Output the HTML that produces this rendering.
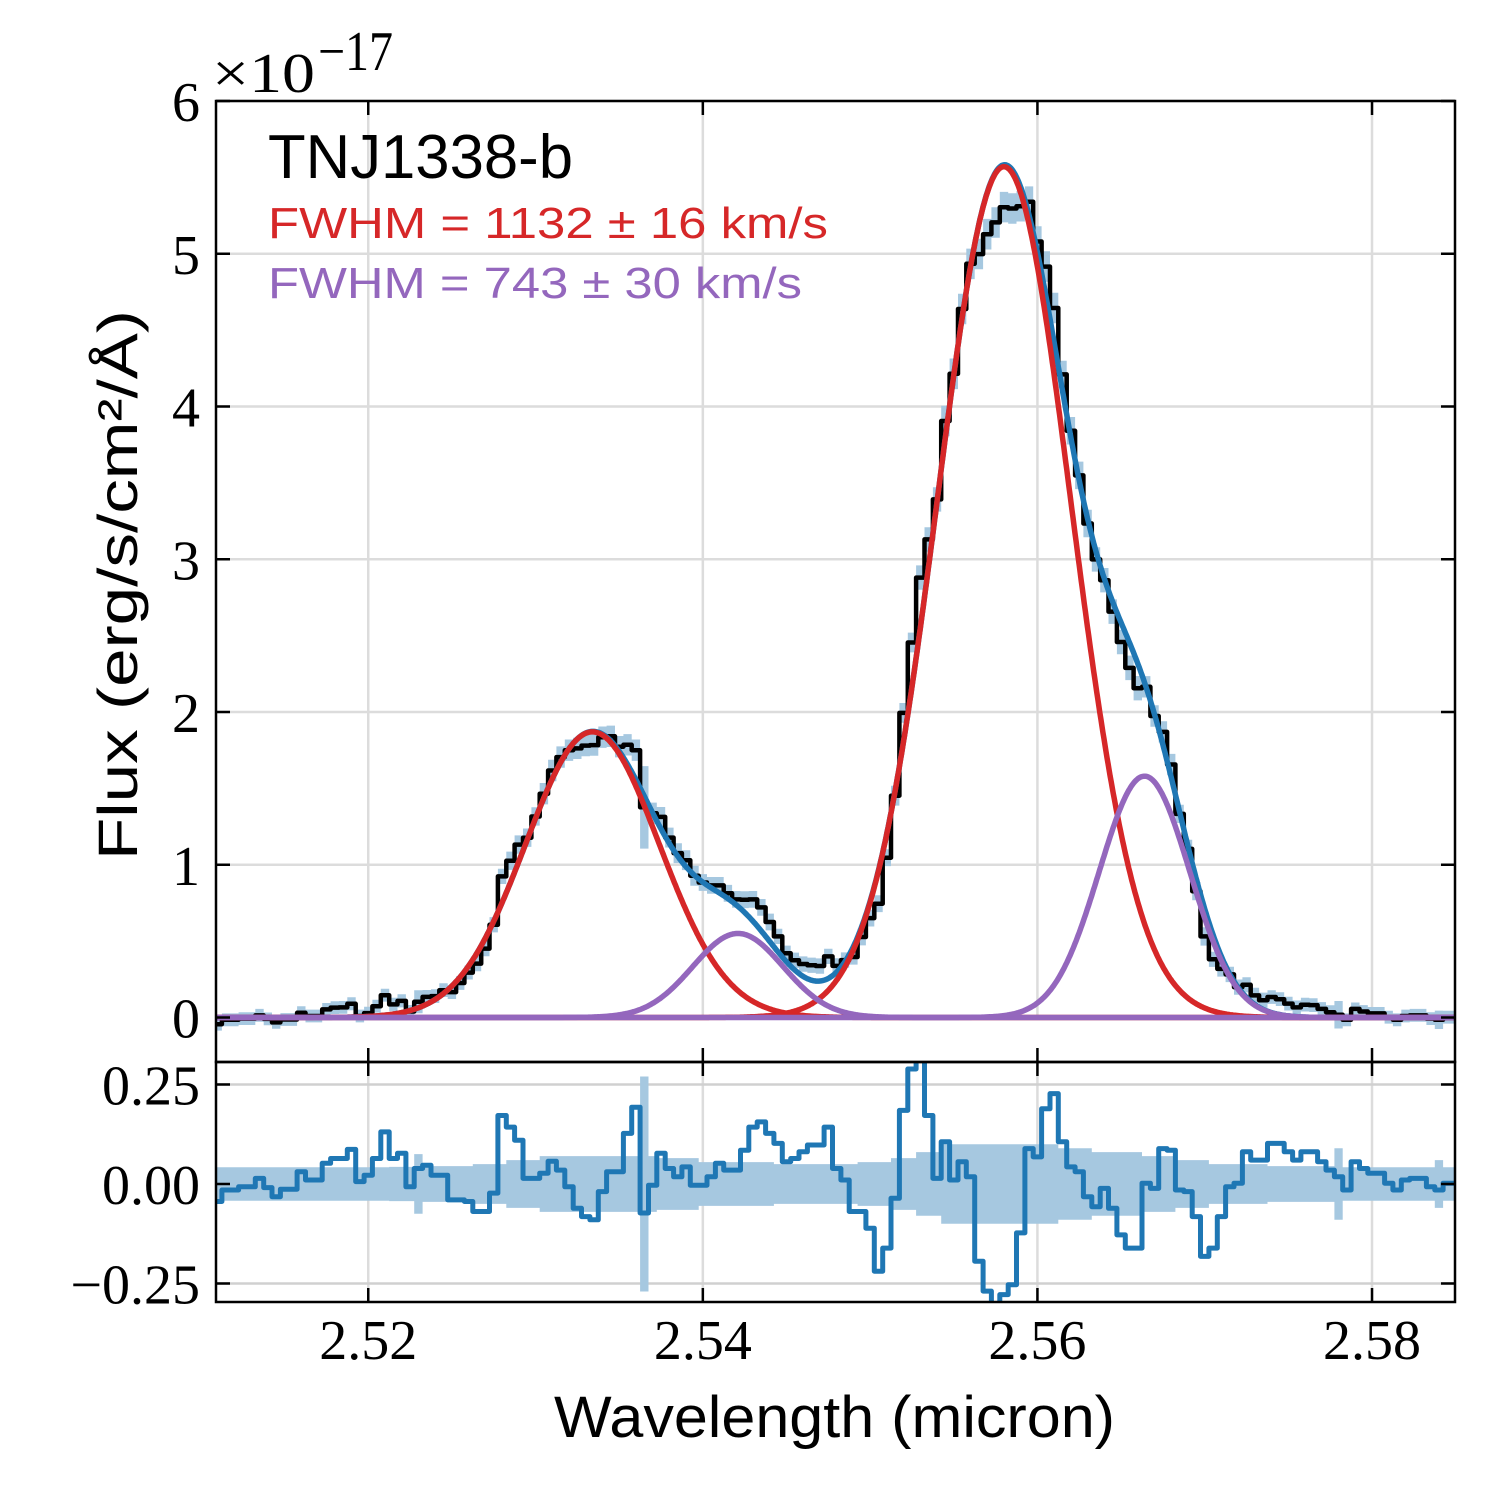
<!DOCTYPE html>
<html><head><meta charset="utf-8"><style>
html,body{margin:0;padding:0;background:#fff;}
svg{display:block;}
.tk{font-family:"Liberation Serif",serif;font-size:56px;fill:#000;}
.lb{font-family:"Liberation Sans Narrow","Liberation Sans",sans-serif;}
</style></head><body>
<svg id="chart" width="1500" height="1500" viewBox="0 0 1500 1500" xmlns="http://www.w3.org/2000/svg">
<defs>
<clipPath id="cm"><rect x="216" y="101" width="1239" height="916.5"/></clipPath>
<clipPath id="cmw"><rect x="216" y="101" width="1239" height="945"/></clipPath>
<clipPath id="cr"><rect x="216" y="1062" width="1239" height="240"/></clipPath>
</defs>
<g id="grid"></g>
<g id="main"></g>
<g id="resid"></g>
<g id="axes"></g>
<text class="lb" x="268" y="178" font-size="62" textLength="305" lengthAdjust="spacingAndGlyphs">TNJ1338-b</text>
<text class="lb" x="268" y="238" font-size="44" fill="#d62728" textLength="560" lengthAdjust="spacingAndGlyphs">FWHM = 1132 ± 16 km/s</text>
<text class="lb" x="268" y="298" font-size="44" fill="#9467bd" textLength="534" lengthAdjust="spacingAndGlyphs">FWHM = 743 ± 30 km/s</text>
<text class="tk" x="212" y="92" font-size="65" textLength="103" lengthAdjust="spacingAndGlyphs">×10</text>
<text class="tk" x="318" y="70" font-size="46" textLength="75" lengthAdjust="spacingAndGlyphs">−17</text>
<text class="lb" x="554" y="1437" font-size="58" textLength="561" lengthAdjust="spacingAndGlyphs">Wavelength (micron)</text>
<text class="lb" transform="translate(137,860) rotate(-90)" x="0" y="0" font-size="56" textLength="550" lengthAdjust="spacingAndGlyphs">Flux (erg/s/cm²/Å)</text>
</svg>
<script>
const wlStart = 2.5110;
const wlStep = 0.0005;
const flux = [-0.044,-0.015,-0.015,-0.007,-0.007,0.014,-0.009,-0.032,-0.013,-0.013,0.031,0.010,0.010,0.053,0.065,0.066,0.09,0.01,0.029,0.074,0.146,0.086,0.109,0.039,0.103,0.135,0.14,0.179,0.166,0.226,0.294,0.353,0.451,0.607,0.924,1.026,1.132,1.177,1.316,1.465,1.617,1.705,1.75,1.762,1.78,1.783,1.835,1.841,1.773,1.785,1.75,1.376,1.337,1.313,1.178,1.076,1.03,0.928,0.884,0.865,0.865,0.813,0.773,0.771,0.773,0.721,0.625,0.531,0.421,0.375,0.35,0.342,0.337,0.40,0.338,0.376,0.396,0.527,0.651,0.745,1.046,1.452,1.994,2.455,2.88,3.13,3.392,3.905,4.214,4.638,4.934,4.998,5.128,5.205,5.305,5.296,5.311,5.341,5.08,4.916,4.645,4.21,3.841,3.549,3.234,2.999,2.863,2.657,2.458,2.289,2.156,2.165,1.974,1.87,1.656,1.333,1.104,0.827,0.531,0.381,0.318,0.282,0.199,0.214,0.145,0.113,0.134,0.12,0.091,0.066,0.084,0.081,0.056,0.035,0.018,-0.015,0.056,0.039,0.027,0.027,0.002,-0.015,0.01,0.014,0.014,-0.007,-0.015,0.002,0.002];
const residual = [-0.044,-0.015,-0.015,-0.007,-0.007,0.014,-0.009,-0.032,-0.013,-0.013,0.031,0.010,0.010,0.052,0.064,0.064,0.087,0.006,0.022,0.064,0.131,0.064,0.077,-0.007,0.039,0.047,0.022,0.022,-0.04,-0.04,-0.044,-0.069,-0.069,-0.023,0.172,0.143,0.11,0.014,0.014,0.027,0.057,0.035,-0.007,-0.061,-0.082,-0.09,-0.019,0.031,0.031,0.127,0.193,-0.073,-0.003,0.077,0.039,0.018,0.043,-0.003,-0.003,0.018,0.052,0.035,0.035,0.085,0.143,0.156,0.127,0.102,0.056,0.064,0.081,0.098,0.098,0.143,0.039,0.01,-0.069,-0.069,-0.111,-0.219,-0.161,-0.036,0.185,0.289,0.33,0.172,0.014,0.106,0.01,0.056,0.018,-0.194,-0.269,-0.33,-0.278,-0.253,-0.123,0.089,0.068,0.189,0.227,0.106,0.043,0.031,-0.032,-0.057,-0.011,-0.061,-0.128,-0.161,-0.161,0.002,-0.011,0.089,0.085,-0.015,-0.019,-0.082,-0.182,-0.161,-0.082,-0.007,0.002,0.081,0.06,0.06,0.102,0.102,0.081,0.06,0.081,0.081,0.056,0.035,0.018,-0.015,0.056,0.039,0.027,0.027,0.002,-0.015,0.01,0.014,0.014,-0.007,-0.015,0.002,0.002];
const fluxErr = [0.042,0.042,0.042,0.042,0.042,0.042,0.042,0.042,0.042,0.042,0.042,0.042,0.042,0.042,0.042,0.042,0.042,0.042,0.042,0.042,0.042,0.043,0.043,0.043,0.075,0.045,0.045,0.045,0.045,0.045,0.045,0.05,0.05,0.05,0.05,0.06,0.06,0.06,0.06,0.07,0.07,0.07,0.07,0.07,0.07,0.07,0.07,0.07,0.07,0.07,0.07,0.27,0.07,0.065,0.065,0.065,0.065,0.065,0.055,0.055,0.055,0.055,0.055,0.055,0.055,0.055,0.055,0.05,0.05,0.05,0.05,0.05,0.05,0.05,0.05,0.05,0.05,0.055,0.055,0.055,0.055,0.065,0.065,0.065,0.08,0.08,0.08,0.1,0.1,0.1,0.1,0.1,0.1,0.1,0.1,0.1,0.1,0.1,0.1,0.1,0.1,0.09,0.09,0.09,0.09,0.08,0.08,0.08,0.08,0.08,0.08,0.07,0.07,0.07,0.07,0.06,0.06,0.06,0.06,0.05,0.05,0.05,0.05,0.05,0.05,0.05,0.045,0.045,0.045,0.045,0.045,0.045,0.045,0.045,0.09,0.042,0.042,0.042,0.042,0.042,0.042,0.042,0.042,0.042,0.042,0.042,0.06,0.042,0.042];
// Gaussian fit components: amplitude, centre (micron), sigma (micron)
const broadAmp = [1.87, 5.57];
const broadCen = [2.5334, 2.5580];
const broadSig = [0.0040, 0.0040];
const narrowAmp = [0.55, 1.58];
const narrowCen = [2.5421, 2.5664];
const narrowSig = [0.0027, 0.0027];
const xTicks = [2.52, 2.54, 2.56, 2.58];
const xTickLabels = ["2.52","2.54","2.56","2.58"];
const yTicks = [0,1,2,3,4,5,6];
const rTicks = [-0.25, 0, 0.25];
const rTickLabels = ["−0.25","0.00","0.25"];

const NS="http://www.w3.org/2000/svg";
const X0=216,X1=1455, XMIN=2.5109, XMAX=2.58496;
const MY0=1017.5, MY1=101, MYMIN=0, MYMAX=6;
const RY0=1302, RY1=1062, RYMIN=-0.2965, RYMAX=0.3065;
const sx=w=>X0+(w-XMIN)/(XMAX-XMIN)*(X1-X0);
const sy=v=>MY0+(v-MYMIN)/(MYMAX-MYMIN)*(MY1-MY0);
const sr=v=>RY0+(v-RYMIN)/(RYMAX-RYMIN)*(RY1-RY0);
const wl=i=>wlStart+i*wlStep;
function mk(tag,attrs,parent){const e=document.createElementNS(NS,tag);for(const k in attrs)e.setAttribute(k,attrs[k]);parent.appendChild(e);return e;}
const grid=document.getElementById('grid'),main=document.getElementById('main'),resid=document.getElementById('resid'),axes=document.getElementById('axes');

xTicks.forEach(t=>{
  const g1=mk('line',{x1:sx(t),x2:sx(t),y1:MY1,y2:MY0,stroke:'#dcdcdc','stroke-width':2.5},grid);
  
  
  const g2=mk('line',{x1:sx(t),x2:sx(t),y1:RY1,y2:RY0,stroke:'#dcdcdc','stroke-width':2.5},grid);
  
  
});
yTicks.forEach(t=>{
  const g=mk('line',{x1:X0,x2:X1,y1:sy(t),y2:sy(t),stroke:'#dcdcdc','stroke-width':2.5},grid);
  
  
});
rTicks.forEach(t=>{
  const g=mk('line',{x1:X0,x2:X1,y1:sr(t),y2:sr(t),stroke:'#d0d0d0','stroke-width':2.5},grid);
  
  
});

function stepPts(vals,f){
  const n=vals.length,pts=[];
  for(let i=0;i<n;i++){
    const xa=sx(wl(i)-wlStep/2),xb=sx(wl(i)+wlStep/2);
    pts.push([xa,f(vals[i])],[xb,f(vals[i])]);
  }
  return pts;
}
function bandPath(lo,hi,f){
  const a=stepPts(hi,f),b=stepPts(lo,f).reverse();
  return 'M'+a.concat(b).map(p=>p[0].toFixed(1)+','+p[1].toFixed(1)).join('L')+'Z';
}
const lineD=pts=>'M'+pts.map(p=>p[0].toFixed(1)+','+p[1].toFixed(1)).join('L');

const hi=flux.map((v,i)=>v+fluxErr[i]),lo=flux.map((v,i)=>v-fluxErr[i]);
const band=mk('path',{d:bandPath(lo,hi,sy),fill:'#a6c8e0','clip-path':'url(#cmw)'},main);


const dat=mk('path',{d:lineD(stepPts(flux,sy)),fill:'none',stroke:'#000','stroke-width':4.5,'stroke-linejoin':'round','clip-path':'url(#cmw)'},main);



function gauss(w,a,c,s){return a*Math.exp(-0.5*((w-c)/s)**2);}
function curve(fn){const pts=[];for(let k=0;k<=1200;k++){const w=XMIN+(XMAX-XMIN)*k/1200;pts.push([sx(w),sy(fn(w))]);}return lineD(pts);}
const total=w=>{let s=0;for(let j=0;j<broadAmp.length;j++)s+=gauss(w,broadAmp[j],broadCen[j],broadSig[j]);for(let j=0;j<narrowAmp.length;j++)s+=gauss(w,narrowAmp[j],narrowCen[j],narrowSig[j]);return s;};
const tot=mk('path',{d:curve(total),fill:'none',stroke:'#1f77b4','stroke-width':5.5,'clip-path':'url(#cmw)'},main);


for(let j=0;j<broadAmp.length;j++){
  const p=mk('path',{d:curve(w=>gauss(w,broadAmp[j],broadCen[j],broadSig[j])),fill:'none',stroke:'#d62728','stroke-width':5.5,'clip-path':'url(#cmw)'},main);
  
  
}
for(let j=0;j<narrowAmp.length;j++){
  const p=mk('path',{d:curve(w=>gauss(w,narrowAmp[j],narrowCen[j],narrowSig[j])),fill:'none',stroke:'#9467bd','stroke-width':5.5,'clip-path':'url(#cmw)'},main);
  
  
}

const rhi=fluxErr.slice(),rlo=fluxErr.map(v=>-v);
const rb=mk('path',{d:bandPath(rlo,rhi,sr),fill:'#a6c8e0','clip-path':'url(#cr)'},resid);


const rl=mk('path',{d:lineD(stepPts(residual,sr)),fill:'none',stroke:'#1f77b4','stroke-width':5,'stroke-linejoin':'round','clip-path':'url(#cr)'},resid);



const f1=mk('rect',{x:X0,y:MY1,width:X1-X0,height:1062-MY1,fill:'none',stroke:'#000','stroke-width':2.5},axes);


const f2=mk('rect',{x:X0,y:RY1,width:X1-X0,height:RY0-RY1,fill:'none',stroke:'#000','stroke-width':2.5},axes);



xTicks.forEach((t,i)=>{
  const x=sx(t);
  [[1062,1048],[1062,1076],[RY0,RY0-14],[MY1,MY1+14]].forEach(s=>{
    const l=mk('line',{x1:x,x2:x,y1:s[0],y2:s[1],stroke:'#000','stroke-width':2.5},axes);
    
    
  });
  const tx=mk('text',{x:x,y:1359,'text-anchor':'middle',class:'tk'},axes);
  tx.textContent=xTickLabels[i];
  
  
});
yTicks.forEach(t=>{
  const y=sy(t);
  [[X0,X0+14],[X1,X1-14]].forEach(s=>{
    const l=mk('line',{x1:s[0],x2:s[1],y1:y,y2:y,stroke:'#000','stroke-width':2.5},axes);
    
    
  });
  const tx=mk('text',{x:200,y:y+20,'text-anchor':'end',class:'tk'},axes);
  tx.textContent=String(t);
  
  
});
rTicks.forEach((t,i)=>{
  const y=sr(t);
  [[X0,X0+14],[X1,X1-14]].forEach(s=>{
    const l=mk('line',{x1:s[0],x2:s[1],y1:y,y2:y,stroke:'#000','stroke-width':2.5},axes);
    
    
  });
  const tx=mk('text',{x:200,y:y+20,'text-anchor':'end',class:'tk'},axes);
  tx.textContent=rTickLabels[i];
  
  
});
</script>
</body></html>
